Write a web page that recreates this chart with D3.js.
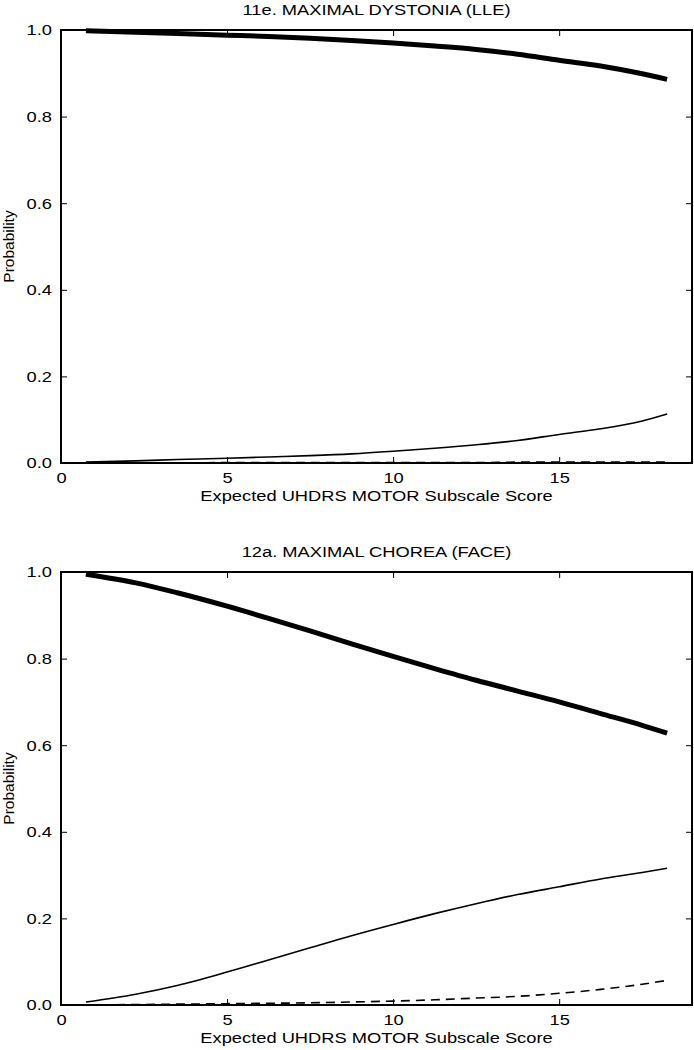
<!DOCTYPE html>
<html><head><meta charset="utf-8">
<script src="https://cdn.jsdelivr.net/npm/d3@7"></script>
<style>body{margin:0;background:#fff}svg{display:block}</style>
</head><body>
<script>
const xs = [0.75, 2.25, 3.5, 5, 6.25, 7.5, 8.75, 10, 11.25, 12.5, 13.75, 15, 16.25, 17.5, 18.25];
const xTicks = [0, 5, 10, 15];
const yTicks = [0.0, 0.2, 0.4, 0.6, 0.8, 1.0];
const titles = ["11e. MAXIMAL DYSTONIA (LLE)", "12a. MAXIMAL CHOREA (FACE)"];
const xLabel = "Expected UHDRS MOTOR Subscale Score";
const yLabel = "Probability";
// chart 1
const c1Thick  = [0.998,0.995,0.992,0.988,0.985,0.981,0.976,0.970,0.963,0.955,0.944,0.930,0.917,0.899,0.886];
const c1Thin   = [0.002,0.005,0.008,0.011,0.014,0.017,0.021,0.027,0.034,0.042,0.052,0.066,0.079,0.097,0.113];
const c1Dashed = [0.000,0.000,0.000,0.001,0.001,0.001,0.001,0.001,0.001,0.001,0.002,0.002,0.002,0.002,0.002];
const c1Dotted = [0,0,0,0,0,0,0,0,0,0,0,0,0,0,0];
// chart 2
const c2Thick  = [0.995,0.975,0.952,0.921,0.893,0.864,0.834,0.805,0.777,0.750,0.725,0.700,0.673,0.646,0.628];
const c2Thin   = [0.007,0.025,0.045,0.076,0.104,0.132,0.160,0.186,0.211,0.234,0.255,0.273,0.291,0.306,0.316];
const c2Dashed = [0.000,0.001,0.002,0.003,0.004,0.005,0.007,0.009,0.012,0.016,0.020,0.027,0.036,0.048,0.057];
const c2Dotted = [0,0,0,0,0,0,0,0,0,0,0,0,0,0,0];

const panels = [
  {title: titles[0], series: [c1Dotted, c1Dashed, c1Thin, c1Thick], top: 30},
  {title: titles[1], series: [c2Dotted, c2Dashed, c2Thin, c2Thick], top: 572}
];
const styles = [
  {w: 1.2, dash: "2,8"},
  {w: 1.6, dash: "9,6"},
  {w: 1.6, dash: null},
  {w: 5, dash: null}
];

const W = 694, H = 1050;
const left = 61, right = 692, ph = 433;
const fs = 15.5, stretch = 1.18;
const font = "'Liberation Sans', Arial, Helvetica, sans-serif";
const svg = d3.select("body").append("svg").attr("width", W).attr("height", H)
  .style("font-family", font);

const x = d3.scaleLinear().domain([0, 19]).range([left, right]);

panels.forEach(p => {
  const y = d3.scaleLinear().domain([0, 1]).range([p.top + ph, p.top]);
  const g = svg.append("g");
  const line = d3.line().x((d, i) => x(xs[i])).y(d => y(d)).curve(d3.curveMonotoneX);
  p.series.forEach((s, k) => {
    g.append("path").datum(s).attr("d", line).attr("fill", "none")
      .attr("stroke", "#000").attr("stroke-width", styles[k].w)
      .attr("stroke-dasharray", styles[k].dash);
  });
  const tk = 6;
  const axB = g.append("g").attr("transform", `translate(0,${p.top + ph})`)
    .call(d3.axisBottom(x).tickValues(xTicks).tickFormat(d3.format("d")).tickSizeInner(-tk).tickSizeOuter(0).tickPadding(9));
  const axT = g.append("g").attr("transform", `translate(0,${p.top})`)
    .call(d3.axisTop(x).tickValues(xTicks).tickFormat("").tickSizeInner(-tk).tickSizeOuter(0));
  const axL = g.append("g").attr("transform", `translate(${left},0)`)
    .call(d3.axisLeft(y).tickValues(yTicks).tickFormat(d3.format(".1f")).tickSizeInner(-tk).tickSizeOuter(0).tickPadding(9));
  const axR = g.append("g").attr("transform", `translate(${right},0)`)
    .call(d3.axisRight(y).tickValues(yTicks).tickFormat("").tickSizeInner(-tk).tickSizeOuter(0));
  [axB, axT, axL, axR].forEach(a => {
    a.select(".domain").remove();
    a.selectAll("line").attr("stroke", "#000").attr("stroke-width", 1);
    a.selectAll("text").attr("font-family", font).attr("font-size", fs).attr("fill", "#000").classed("hz", true);
  });
  g.append("rect").attr("x", left).attr("y", p.top).attr("width", right - left).attr("height", ph)
    .attr("fill", "none").attr("stroke", "#000").attr("stroke-width", 2);
  g.append("text").attr("class", "hz").attr("x", (left + right) / 2).attr("y", p.top - 15).attr("text-anchor", "middle")
    .attr("font-size", fs).text(p.title);
  g.append("text").attr("class", "hz").attr("x", (left + right) / 2).attr("y", p.top + ph + 38).attr("text-anchor", "middle")
    .attr("font-size", fs).text(xLabel);
  g.append("text").attr("transform", `translate(14,${p.top + ph / 2}) rotate(-90)`).attr("text-anchor", "middle")
    .attr("font-size", fs).text(yLabel);
});

// horizontal stretch of text to match the reference proportions
svg.selectAll("text.hz").each(function() {
  const t = this.textContent;
  if (!t) return;
  const len = this.getComputedTextLength();
  d3.select(this).attr("textLength", len * stretch).attr("lengthAdjust", "spacingAndGlyphs");
});
</script>
</body></html>
